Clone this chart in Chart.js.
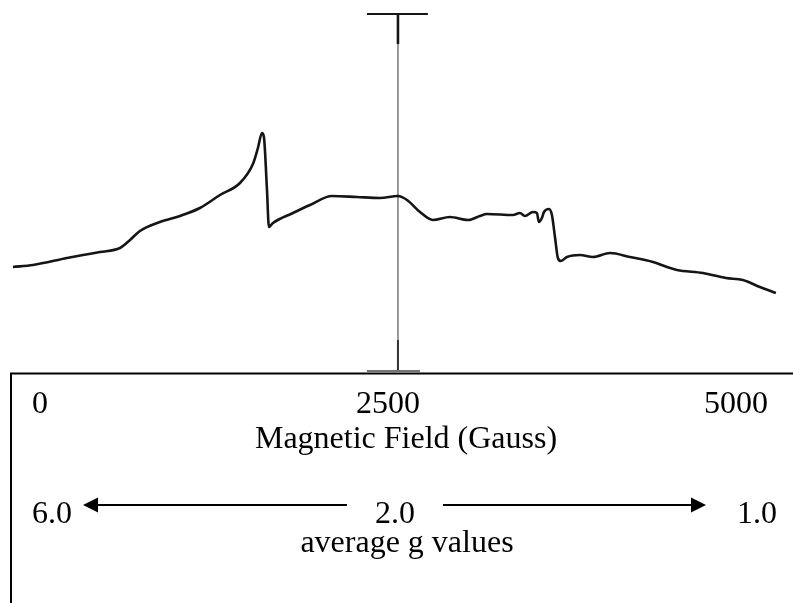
<!DOCTYPE html>
<html>
<head>
<meta charset="utf-8">
<script src="https://cdn.jsdelivr.net/npm/chart.js@4.4.1/dist/chart.umd.min.js"></script>
<style>
  html, body { margin: 0; padding: 0; background: #ffffff; }
  canvas { display: block; }
</style>
</head>
<body>
<canvas id="epr" width="793" height="603"></canvas>
<script>
// EPR trace: magnetic field (Gauss) and signal intensity (arbitrary units)
const fieldGauss = [
  -194, -50, 194, 309, 431, 575, 647, 718, 862, 1006, 1149, 1293, 1437, 1530, 1566,
  1595, 1609, 1631, 1645, 1674, 1818, 1940, 2098, 2277, 2443, 2572, 2637, 2730, 2823,
  2945, 3075, 3161, 3211, 3398, 3448, 3484, 3542, 3570, 3585, 3606, 3621, 3657, 3678,
  3700, 3721, 3743, 3786, 3879, 3973, 4095, 4239, 4404, 4504, 4576, 4763, 4928, 5050,
  5172, 5287
];
const signal = [
  106, 108, 115, 118, 121, 125, 133, 142, 151, 157, 165, 178, 190, 209, 225,
  240, 236, 183, 146, 150, 160, 168, 177, 176, 175, 177, 173, 161, 153,
  156, 153, 157, 159, 158, 160, 157, 161, 160, 151, 155, 161, 164, 158,
  136, 115, 112, 116, 118, 116, 120, 116, 111, 106, 103, 100, 95, 93,
  86, 80
];

// Reference field marker with its end bars
const markerField = 2572;
const markerTop = 359, markerTopInner = 329, markerBottomInner = 33, markerBottom = 3;
const capTopField = [2349, 2787];
const capBottomField = [2349, 2730];
const capBottomLevel = 2;

// Field tick labels and g-value labels
const fieldTicks = [0, 2500, 5000];
const fieldTitle = 'Magnetic Field (Gauss)';
const gLabels = ['6.0', '2.0', '1.0'];
const gTitle = 'average g values';

const traceData = fieldGauss.map((x, i) => ({ x, y: signal[i] }));
const ink = '#151515';

const seg = (pts, width, color) => ({
  data: pts, borderColor: color, borderWidth: width, pointRadius: 0,
  tension: 0, fill: false, clip: false
});

// Draws the label panel below the trace
const panelPlugin = {
  id: 'panel',
  afterDraw(chart) {
    const ctx = chart.ctx;
    const xs = chart.scales.x, ys = chart.scales.y;
    const top = Math.round(ys.getPixelForValue(0)) + 0.5;
    ctx.save();
    ctx.strokeStyle = '#000';
    ctx.lineWidth = 2;
    ctx.beginPath();
    ctx.moveTo(11, chart.height);
    ctx.lineTo(11, top);
    ctx.lineTo(chart.width, top);
    ctx.stroke();

    ctx.fillStyle = '#000';
    ctx.font = '32px "Liberation Serif", "Times New Roman", serif';
    ctx.textAlign = 'center';
    ctx.textBaseline = 'alphabetic';
    fieldTicks.forEach(t => {
      ctx.fillText(String(t), xs.getPixelForValue(t), 413);
    });
    ctx.fillText(fieldTitle, 406, 448);

    const gx = [52, 395, 757];
    gLabels.forEach((s, i) => ctx.fillText(s, gx[i], 523));
    ctx.fillText(gTitle, 407, 552);

    // arrows
    const ay = 505;
    const arrow = (from, to) => {
      const dir = Math.sign(to - from);
      ctx.lineWidth = 2;
      ctx.beginPath();
      ctx.moveTo(from, ay);
      ctx.lineTo(to - dir * 12, ay);
      ctx.stroke();
      ctx.beginPath();
      ctx.moveTo(to, ay);
      ctx.lineTo(to - dir * 15, ay - 7.5);
      ctx.lineTo(to - dir * 15, ay + 7.5);
      ctx.closePath();
      ctx.fill();
    };
    arrow(347, 83);
    arrow(443, 706);
    ctx.restore();
  }
};

new Chart(document.getElementById('epr'), {
  type: 'line',
  data: {
    datasets: [
      Object.assign(seg(traceData, 2.6, ink), { cubicInterpolationMode: 'monotone' }),
      seg([{ x: markerField, y: markerTopInner }, { x: markerField, y: markerBottomInner }], 1, '#8a8a8a'),
      seg([{ x: markerField, y: markerTop }, { x: markerField, y: markerTopInner }], 2.6, ink),
      seg([{ x: markerField, y: markerBottomInner }, { x: markerField, y: markerBottom }], 2, '#333'),
      seg([{ x: capTopField[0], y: markerTop }, { x: capTopField[1], y: markerTop }], 2, ink),
      seg([{ x: capBottomField[0], y: capBottomLevel }, { x: capBottomField[1], y: capBottomLevel }], 1.5, '#444')
    ]
  },
  options: {
    responsive: false,
    devicePixelRatio: 1,
    animation: false,
    events: [],
    layout: { padding: 0 },
    plugins: { legend: { display: false }, tooltip: { enabled: false } },
    scales: {
      x: { type: 'linear', min: -287, max: 5410, display: false },
      y: { type: 'linear', min: -230, max: 373, display: false }
    }
  },
  plugins: [panelPlugin]
});
</script>
</body>
</html>
